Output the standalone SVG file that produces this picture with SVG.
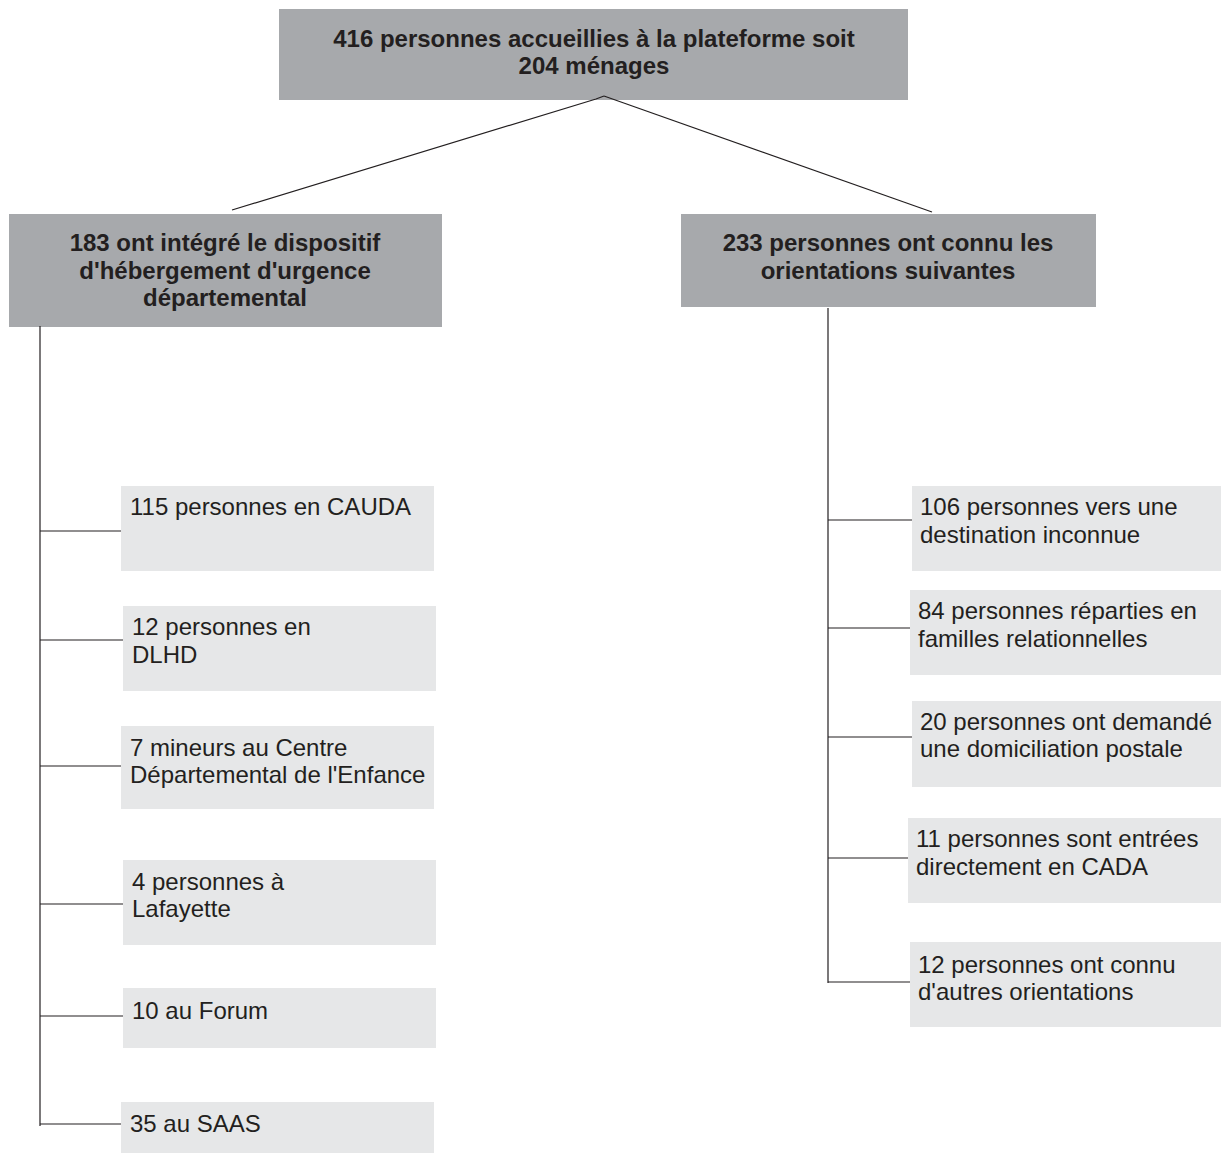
<svg xmlns="http://www.w3.org/2000/svg" width="1221" height="1153" viewBox="0 0 1221 1153">
<style>
.dark{fill:#a7a9ac}
.light{fill:#e6e7e8}
.tb{font-family:"Liberation Sans",Arial,sans-serif;font-size:24px;font-weight:bold;fill:#231f20;text-anchor:middle}
.t{font-family:"Liberation Sans",Arial,sans-serif;font-size:24px;fill:#231f20}
.c{fill:none;stroke:#231f20;stroke-width:1.2}
</style>
<rect width="1221" height="1153" fill="#ffffff"/>
<g id="root">
<rect class="dark" x="279" y="9" width="629" height="91"/>
<text class="tb" x="594" y="47">416 personnes accueillies à la plateforme soit</text>
<text class="tb" x="594" y="74">204 ménages</text>
</g>
<g id="left-head">
<rect class="dark" x="9" y="214" width="433" height="113"/>
<text class="tb" x="225" y="251">183 ont intégré le dispositif</text>
<text class="tb" x="225" y="279">d'hébergement d'urgence</text>
<text class="tb" x="225" y="306">départemental</text>
</g>
<g id="right-head">
<rect class="dark" x="681" y="214" width="415" height="93"/>
<text class="tb" x="888" y="251">233 personnes ont connu les</text>
<text class="tb" x="888" y="279">orientations suivantes</text>
</g>
<g id="l1">
<rect class="light" x="121" y="486" width="313" height="85"/>
<text class="t" x="130" y="515">115 personnes en CAUDA</text>
</g>
<g id="l2">
<rect class="light" x="123" y="606" width="313" height="85"/>
<text class="t" x="132" y="635">12 personnes en</text>
<text class="t" x="132" y="663">DLHD</text>
</g>
<g id="l3">
<rect class="light" x="121" y="726" width="313" height="83"/>
<text class="t" x="130" y="756">7 mineurs au Centre</text>
<text class="t" x="130" y="783">Départemental de l'Enfance</text>
</g>
<g id="l4">
<rect class="light" x="123" y="860" width="313" height="85"/>
<text class="t" x="132" y="890">4 personnes à</text>
<text class="t" x="132" y="917">Lafayette</text>
</g>
<g id="l5">
<rect class="light" x="123" y="988" width="313" height="60"/>
<text class="t" x="132" y="1019">10 au Forum</text>
</g>
<g id="l6">
<rect class="light" x="121" y="1102" width="313" height="51"/>
<text class="t" x="130" y="1132">35 au SAAS</text>
</g>
<g id="r1">
<rect class="light" x="912" y="486" width="309" height="85"/>
<text class="t" x="920" y="515">106 personnes vers une</text>
<text class="t" x="920" y="543">destination inconnue</text>
</g>
<g id="r2">
<rect class="light" x="910" y="590" width="311" height="85"/>
<text class="t" x="918" y="619">84 personnes réparties en</text>
<text class="t" x="918" y="647">familles relationnelles</text>
</g>
<g id="r3">
<rect class="light" x="912" y="701" width="309" height="86"/>
<text class="t" x="920" y="730">20 personnes ont demandé</text>
<text class="t" x="920" y="757">une domiciliation postale</text>
</g>
<g id="r4">
<rect class="light" x="908" y="818" width="313" height="85"/>
<text class="t" x="916" y="847">11 personnes sont entrées</text>
<text class="t" x="916" y="875">directement en CADA</text>
</g>
<g id="r5">
<rect class="light" x="910" y="942" width="311" height="85"/>
<text class="t" x="918" y="973">12 personnes ont connu</text>
<text class="t" x="918" y="1000">d'autres orientations</text>
</g>
<g id="connectors">
<path class="c" d="M604,96 L596,99 L232,210"/>
<path class="c" d="M604,96 L932,212"/>
<path class="c" d="M40,326 V1126"/>
<path class="c" d="M40,531 H121"/>
<path class="c" d="M40,640 H123"/>
<path class="c" d="M40,766 H121"/>
<path class="c" d="M40,904 H123"/>
<path class="c" d="M40,1016 H123"/>
<path class="c" d="M40,1124 H121"/>
<path class="c" d="M828,308 V983"/>
<path class="c" d="M828,520 H912"/>
<path class="c" d="M828,628 H910"/>
<path class="c" d="M828,737 H912"/>
<path class="c" d="M828,858 H908"/>
<path class="c" d="M828,982 H910"/>
</g>
</svg>
